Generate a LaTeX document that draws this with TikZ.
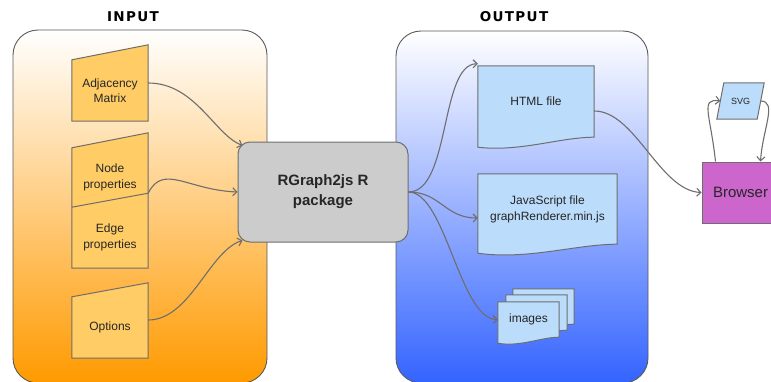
\documentclass[tikz,border=0pt]{standalone}
\usepackage{fontspec}
\setmainfont{Liberation Sans}
\newfontfamily\titlefont[LetterSpace=10]{DejaVu Sans}
\usetikzlibrary{arrows.meta,calc}
\definecolor{edgec}{HTML}{6E6E6E}
\definecolor{inshape}{HTML}{FFCC66}
\definecolor{outshape}{HTML}{BBDCFB}
\definecolor{inbottom}{HTML}{FF9A00}
\definecolor{outbottom}{HTML}{3464FF}
\definecolor{pkg}{HTML}{CCCCCC}
\definecolor{browserc}{HTML}{CC66CC}
\pgfdeclarelayer{back}
\pgfdeclarelayer{mid}
\pgfsetlayers{back,mid,main}
\begin{document}
\begin{tikzpicture}[x=1pt,y=-1pt,
  txt/.style={align=center, inner sep=0pt, text=black!85, font=\fontsize{12}{15.5}\selectfont},
  title/.style={inner sep=0pt, font=\titlefont\bfseries\fontsize{13.5}{16}\selectfont},
  panel/.style={draw=black!65, line width=0.9pt, rounded corners=25pt, inner sep=0pt},
  shapeline/.style={draw=edgec, line width=1pt},
  conn/.style={draw=edgec, line width=1.1pt, -{Straight Barb[length=4pt,width=8pt]}}]
\useasboundingbox (0,0) rectangle (771,381);
\clip (0,0) rectangle (771,381);

% panels
\begin{pgfonlayer}{back}
\node[panel, top color=white, bottom color=inbottom, minimum width=254pt, minimum height=353pt] (pin) at (140,206.5) {};
\node[panel, top color=white, bottom color=outbottom, minimum width=252pt, minimum height=352pt] (pout) at (522,207) {};
\end{pgfonlayer}

\node[title] (tin) at (133,17) {INPUT};
\node[title] (tout) at (514,17) {OUTPUT};

% input nodes
\node[txt, minimum width=76pt, minimum height=61pt] (adj) at (110,90.5) {Adjacency\\Matrix};
\node[txt, minimum width=76pt, minimum height=59pt] (np) at (110,177.5) {Node\\properties};
\node[txt, minimum width=76pt, minimum height=61pt] (ep) at (110,237.5) {Edge\\properties};
\node[txt, minimum width=76pt, minimum height=61pt] (opt) at (110,327.5) {Options};

% package
\node[txt, draw=edgec, line width=1pt, fill=pkg, rounded corners=12pt, minimum width=170pt, minimum height=100pt,
      font=\bfseries\fontsize{15}{20}\selectfont] (rg) at (323,192) {RGraph2js R\\package};

% output nodes
\node[txt, minimum width=116pt, minimum height=71pt] (html) at (536,101.5) {HTML file};
\node[txt, minimum width=139pt, minimum height=70pt, font=\fontsize{12}{16}\selectfont] (js) at (547.5,209) {JavaScript file\\graphRenderer.min.js};
\node[txt, minimum width=61pt, minimum height=35pt] (img3) at (543.5,306.5) {};
\node[txt, minimum width=61pt, minimum height=35pt] (img2) at (536.5,312.5) {};
\node[txt, minimum width=61pt, minimum height=35pt] (img) at (528.5,319.5) {\raisebox{-2.5pt}{images}};

% browser and svg
\node[txt, draw=edgec, line width=1pt, fill=browserc, minimum width=77pt, minimum height=61pt,
      font=\fontsize{15}{18}\selectfont] (br) at (740.5,192.5) {Browser};
\node[txt, minimum width=40pt, minimum height=36pt, font=\fontsize{9}{11}\selectfont] (svg) at (740.5,101) {SVG};

% shapes
\begin{pgfonlayer}{mid}
\path[shapeline, fill=inshape] (adj.south west) -- (adj.north west) -- ([yshift=15pt]adj.north east) -- (adj.south east) -- cycle;
\path[shapeline, fill=inshape] (ep.south west) -- (np.north west) -- ([yshift=15pt]np.north east) -- (ep.south east) -- cycle;
\draw[shapeline] (np.south west) -- ([yshift=14pt]np.south east);
\path[shapeline, fill=inshape] (opt.south west) -- (opt.north west) -- ([yshift=14pt]opt.north east) -- (opt.south east) -- cycle;

\path[shapeline, fill=outshape] (html.north west) -- (html.north east) -- (html.south east)
  .. controls ($(html.south east)+(-34,0)$) and ($(html.south west)+(42,15)$) .. ($(html.south west)+(0,10)$) -- cycle;
\path[shapeline, fill=outshape] (js.north west) -- (js.north east) -- (js.south east)
  .. controls ($(js.south east)+(-41,0)$) and ($(js.south west)+(50,16)$) .. ($(js.south west)+(0,9)$) -- cycle;
\foreach \n in {img3,img2,img}{
\path[shapeline, fill=outshape] (\n.north west) -- (\n.north east) -- (\n.south east)
  .. controls ($(\n.south east)+(-18,0)$) and ($(\n.south west)+(22,10)$) .. ($(\n.south west)+(0,6)$) -- cycle;
}
\path[shapeline, fill=outshape] ([xshift=-3.5pt]svg.south west) -- ([xshift=3.5pt]svg.north west) -- ([xshift=3.5pt]svg.north east) -- ([xshift=-3.5pt]svg.south east) -- cycle;
\end{pgfonlayer}

% connectors
\draw[conn] ([yshift=7.5pt]adj.east) .. controls +(47,0) and +(-28,-11) .. ([xshift=5pt,yshift=-4pt]rg.north west);
\draw[conn] ([yshift=14pt]np.south east) .. controls +(15,-30) and +(-50,-2) .. (rg.west);
\draw[conn] ([yshift=7.5pt]opt.east) .. controls +(42,0) and +(-33,10) .. ([xshift=5pt,yshift=2pt]rg.south west);

\draw[conn] (rg.east) .. controls +(42,0) and +(-38,0) .. ([yshift=2pt]html.north west);
\draw[conn] (rg.east) .. controls +(32,0) and +(-33,0) .. ([yshift=-9pt]js.west);
\draw[conn] (rg.east) .. controls +(37,0) and +(-38,0) .. (img.west);

\draw[conn] ([yshift=-9.5pt]html.east) .. controls +(41,0) and +(-42,-2) .. (br.west);
\draw[conn] ([xshift=14pt]br.north west) .. controls +(-5,-47) and +(-20.5,-3) .. (svg.west);
\draw[conn] (svg.east) .. controls +(17,0) and +(2,-32) .. ([xshift=-19pt]br.north east);
\end{tikzpicture}
\end{document}
